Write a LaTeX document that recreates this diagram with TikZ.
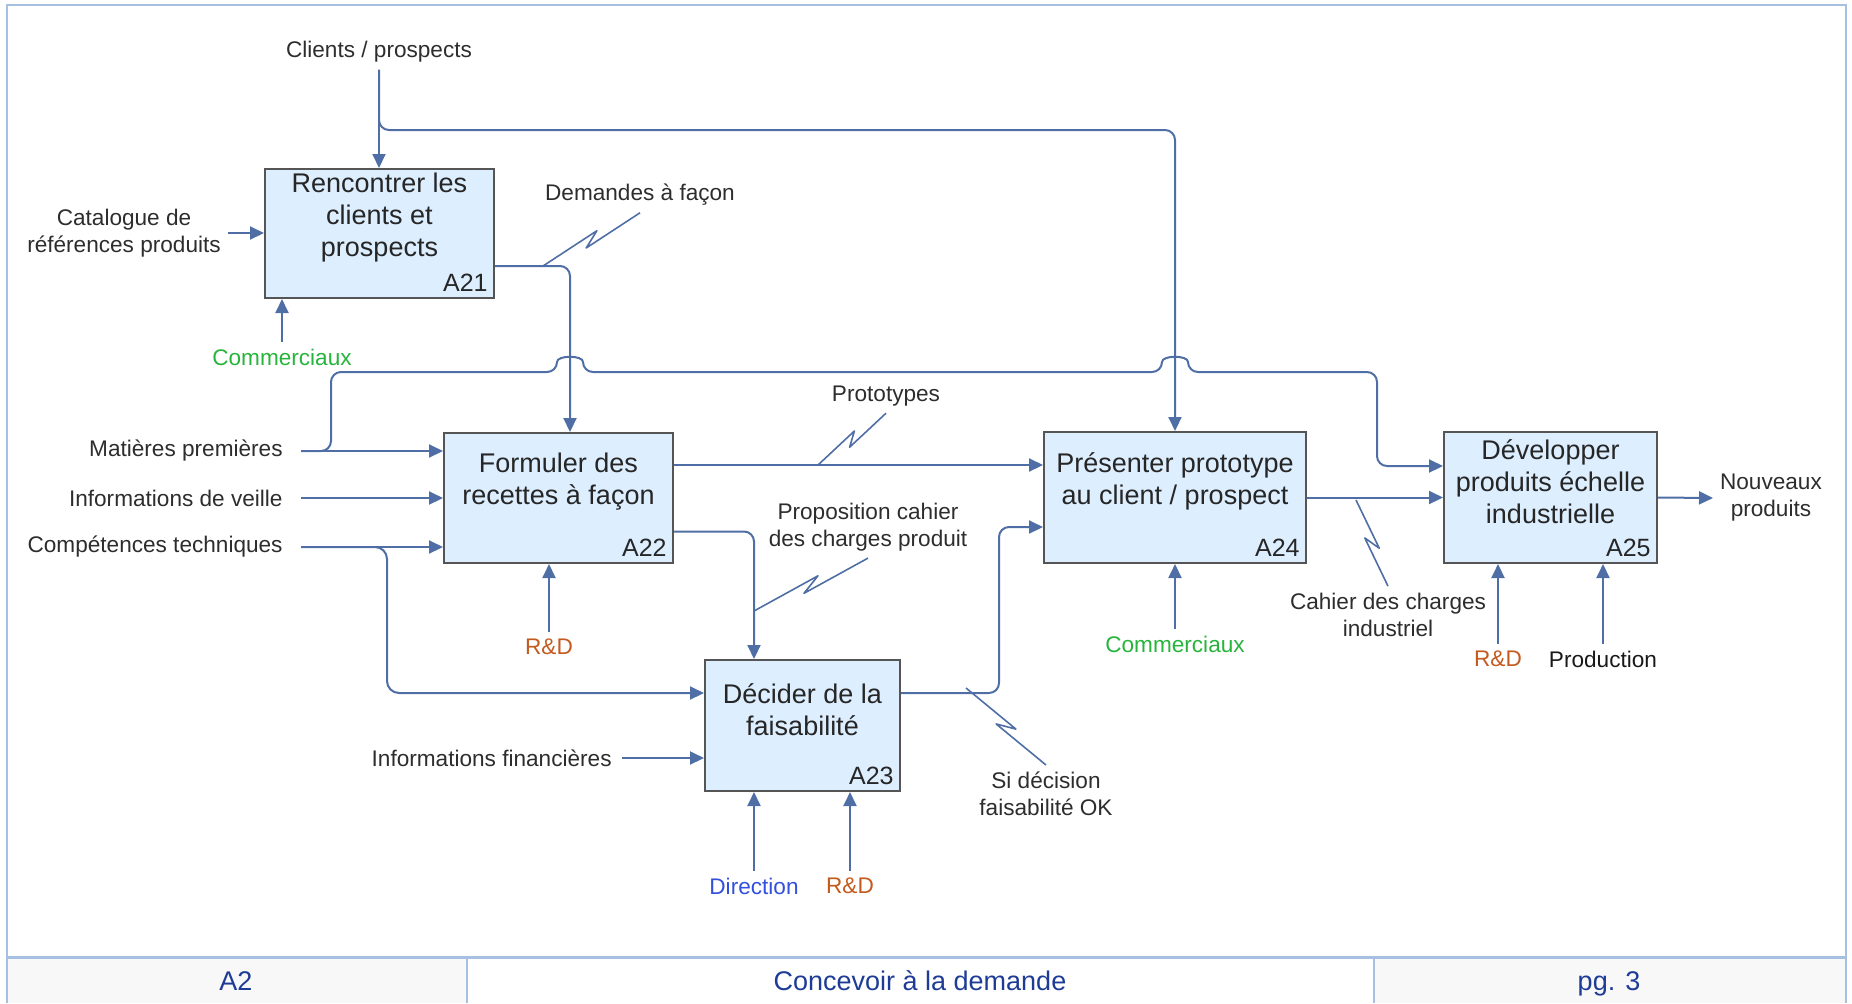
\documentclass[tikz,border=0pt]{standalone}
\usepackage{fontspec}
\setmainfont{Liberation Sans}
\usetikzlibrary{arrows.meta,calc,positioning}

\definecolor{flowblue}{RGB}{79,110,165}
\definecolor{boxfill}{RGB}{221,238,255}
\definecolor{boxline}{RGB}{85,85,85}
\definecolor{txtgray}{RGB}{45,45,45}
\definecolor{comgreen}{RGB}{40,180,60}
\definecolor{rdorange}{RGB}{196,90,30}
\definecolor{dirblue}{RGB}{50,80,220}
\definecolor{framebl}{RGB}{165,192,225}
\definecolor{footgray}{RGB}{248,248,248}
\definecolor{foottext}{RGB}{30,60,150}

% lightning mark from a label to its arrow
\newcommand{\squig}[2]{\draw[squiggle] (#1) -- ($(#1)!0.58!(#2)!2.5pt!90:(#2)$) -- ($(#1)!0.42!(#2)!2.5pt!-90:(#2)$) -- (#2);}

\begin{document}
\begin{tikzpicture}[x=0.5pt,y=-0.5pt,
  flow/.style={draw=flowblue,line width=1pt,-{Triangle[length=7pt,width=6.5pt]}},
  squiggle/.style={draw=flowblue,line width=0.8pt,line join=round},
  proc/.style={draw=boxline,fill=boxfill,line width=1pt,inner sep=0pt},
  ptitle/.style={align=center,font=\fontsize{13.5}{16}\selectfont,text=black!85},
  pid/.style={anchor=south east,font=\fontsize{12.5}{14}\selectfont,text=black!85,inner sep=3.5pt},
  lbl/.style={align=center,font=\fontsize{11.3}{13.5}\selectfont,text=txtgray},
  inlbl/.style={lbl,anchor=east,inner xsep=9pt},
  foot/.style={anchor=base,font=\fontsize{13.5}{16}\selectfont,text=foottext}]
  \useasboundingbox (0,0) rectangle (1852,1003);

  % frame and title block
  \fill[footgray] (7,957) rectangle (467,1003);
  \fill[footgray] (1374,957) rectangle (1846,1003);
  \draw[framebl,line width=1pt] (7,1003) -- (7,5) -- (1846,5) -- (1846,1003);
  \draw[framebl,line width=1.5pt] (7,957) -- (1846,957);
  \draw[framebl,line width=0.6pt] (467,957) -- (467,1003) (1374,957) -- (1374,1003);
  \node[foot] (fa) at (236,990) {A2};
  \node[foot] (fb) at (920,990) {Concevoir à la demande};
  \node[foot] (fc) at (1609,990) {pg. 3};

  % activities
  \node[proc,minimum width=114.5pt,minimum height=64.5pt] (a21) at (379.5,233.5) {};
  \node[ptitle] (t21) at ([yshift=8pt]a21.center) {Rencontrer les\\clients et\\prospects};
  \node[pid] (i21) at (a21.south east) {A21};
  \node[proc,minimum width=114.5pt,minimum height=65pt] (a22) at (558.5,498) {};
  \node[ptitle] (t22) at ([yshift=8pt]a22.center) {Formuler des\\recettes à façon};
  \node[pid] (i22) at (a22.south east) {A22};
  \node[proc,minimum width=97.5pt,minimum height=65.5pt] (a23) at (802.5,725.5) {};
  \node[ptitle] (t23) at ([yshift=8pt]a23.center) {Décider de la\\faisabilité};
  \node[pid] (i23) at (a23.south east) {A23};
  \node[proc,minimum width=131pt,minimum height=65.5pt] (a24) at (1175,497.5) {};
  \node[ptitle] (t24) at ([yshift=8pt]a24.center) {Présenter prototype\\au client / prospect};
  \node[pid] (i24) at (a24.south east) {A24};
  \node[proc,minimum width=106.5pt,minimum height=65.5pt] (a25) at (1550.5,497.5) {};
  \node[ptitle] (t25) at ([yshift=8pt]a25.center) {Développer\\produits échelle\\industrielle};
  \node[pid] (i25) at (a25.south east) {A25};

  % A21
  \node[lbl] (cp) at (379,52) {Clients / prospects};
  \draw[flow] (cp.south) -- (cp.south |- a21.north);
  \draw[flow,rounded corners=5pt] (cp.south) -- (379,130) -- (1175,130) -- (a24.north);
  \node[lbl] (cat) at (124,233) {Catalogue de\\références produits};
  \draw[flow] (cat.east) -- (cat.east -| a21.west);
  \node[lbl,text=comgreen] (com1) at (282,357) {Commerciaux};
  \draw[flow] (com1.north) -- (com1.north |- a21.south);
  \draw[flow,rounded corners=5pt] ([yshift=-16.25pt]a21.east) -| ([xshift=5.75pt]a22.north);
  \node[lbl] (dem) at (640,195) {Demandes à façon};
  \coordinate (demp) at (543,266);
  \squig{dem.south}{demp}

  % A22
  \node[inlbl] (mp) at (301,451) {Matières premières};
  \draw[flow] (mp.east) -- (mp.east -| a22.west);
  \draw[flow,rounded corners=5pt] (mp.east) -- (331,451) -- (331,372) -- (557,372)
    .. controls (557,355) and (583,355) .. (583,372) -- (1162,372)
    .. controls (1162,355) and (1188,355) .. (1188,372) -- (1377,372) |- ([yshift=15.75pt]a25.west);
  \node[inlbl] (iv) at (301,498) {Informations de veille};
  \draw[flow] (iv.east) -- (iv.east -| a22.west);
  \node[inlbl] (ct) at (301,547) {Compétences techniques};
  \draw[flow] (ct.east) -- (ct.east -| a22.west);
  \draw[flow,rounded corners=6pt] (ct.east) -- (387,547) |- ([yshift=16.25pt]a23.west);
  \node[lbl,text=rdorange] (rd1) at (549,647) {R\&D};
  \draw[flow] (rd1.north) -- (rd1.north |- a22.south);
  \draw[flow] ([yshift=16.5pt]a22.east) -- ([yshift=16.5pt]a22.east -| a24.west);
  \node[lbl] (proto) at (886,396) {Prototypes};
  \coordinate (protop) at (818,465);
  \squig{proto.south}{protop}
  \draw[flow,rounded corners=5pt] ([yshift=-16.75pt]a22.east) -| ([xshift=-24.25pt]a23.north);
  \node[lbl] (prop) at (868,527) {Proposition cahier\\des charges produit};
  \coordinate (propp) at (754,611);
  \squig{prop.south}{propp}

  % A23
  \node[inlbl,inner xsep=5pt] (inf) at (622,758) {Informations financières};
  \draw[flow] (inf.east) -- (inf.east -| a23.west);
  \node[lbl,text=dirblue] (dir) at (754,886) {Direction};
  \node[lbl,text=rdorange] (rd2) at (850,886) {R\&D};
  \draw[flow] (dir.north) -- (dir.north |- a23.south);
  \draw[flow] (rd2.north) -- (rd2.north |- a23.south);
  \draw[flow,rounded corners=5pt] ([yshift=16.25pt]a23.east) -- ++(98,0) |- ([yshift=-14.75pt]a24.west);
  \node[lbl] (sd) at (1046,794) {Si décision\\faisabilité OK};
  \coordinate (sdp) at (966,688);
  \squig{sd.north}{sdp}

  % A24
  \node[lbl,text=comgreen] (com2) at (1175,644) {Commerciaux};
  \draw[flow] (com2.north) -- (com2.north |- a24.south);
  \draw[flow] (a24.east) -- (a25.west);
  \node[lbl] (cdc) at (1388,615) {Cahier des charges\\industriel};
  \coordinate (cdcp) at (1356,500);
  \squig{cdc.north}{cdcp}

  % A25
  \node[lbl,text=rdorange] (rd3) at (1498,659) {R\&D};
  \node[lbl,text=black!90] (prod) at (1603,659) {Production};
  \draw[flow] (rd3.north) -- (rd3.north |- a25.south);
  \draw[flow] (prod.north) -- (prod.north |- a25.south);
  \node[lbl,anchor=west] (np) at (1713,498) {Nouveaux\\produits};
  \draw[flow] (a25.east) -- (np.west);
\end{tikzpicture}
\end{document}
